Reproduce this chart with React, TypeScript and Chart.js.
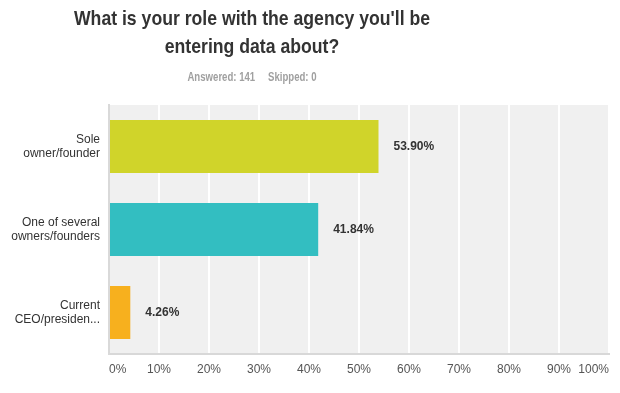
import React, { useEffect, useRef } from "react";
import { Chart, registerables } from "chart.js";

Chart.register(...registerables);

const categories: string[][] = [
  ["Sole", "owner/founder"],
  ["One of several", "owners/founders"],
  ["Current", "CEO/presiden..."],
];
const values: number[] = [53.9, 41.84, 4.26];
const valueLabels: string[] = ["53.90%", "41.84%", "4.26%"];
const barColors: string[] = ["#d0d42a", "#33bec1", "#f7b01e"];
const xTicks: number[] = [0, 10, 20, 30, 40, 50, 60, 70, 80, 90, 100];
const titleLines: string[] = ["What is your role with the agency you'll be", "entering data about?"];
const answered = "Answered: 141";
const skipped = "Skipped: 0";

const FONT = "'Liberation Sans', Arial, Helvetica, sans-serif";

export default function App() {
  const ref = useRef<HTMLCanvasElement | null>(null);

  useEffect(() => {
    document.body.style.margin = "0";
    if (!ref.current) return;

    const bgPlugin = {
      id: "plotBg",
      beforeDraw(chart: any) {
        const { ctx, chartArea } = chart;
        ctx.save();
        ctx.fillStyle = "#f0f0f0";
        ctx.fillRect(chartArea.left - 1, chartArea.top, chartArea.right - chartArea.left + 1, chartArea.bottom - chartArea.top);
        ctx.restore();
      },
    };

    const labelPlugin = {
      id: "valueLabels",
      afterDatasetsDraw(chart: any) {
        const { ctx } = chart;
        const meta = chart.getDatasetMeta(0);
        ctx.save();
        ctx.font = `bold 12px ${FONT}`;
        ctx.fillStyle = "#333333";
        ctx.textAlign = "left";
        ctx.textBaseline = "middle";
        meta.data.forEach((bar: any, i: number) => {
          ctx.fillText(valueLabels[i], bar.x + 15, bar.y);
        });
        ctx.restore();
      },
    };

    const chart = new Chart(ref.current, {
      type: "bar",
      data: {
        labels: categories,
        datasets: [
          {
            data: values,
            backgroundColor: barColors,
            borderWidth: 0,
            barPercentage: 0.64,
            categoryPercentage: 1,
          },
        ],
      },
      options: {
        indexAxis: "y",
        responsive: false,
        animation: false,
        layout: { padding: { top: 105, right: 11, left: 0, bottom: 0 } },
        plugins: {
          legend: { display: false },
          tooltip: { enabled: false },
          title: { display: false },
        },
        scales: {
          x: {
            min: 0,
            max: 100,
            afterBuildTicks(scale: any) {
              scale.ticks = xTicks.map((v) => ({ value: v }));
            },
            afterFit(scale: any) {
              scale.height = 39;
            },
            grid: { color: "#ffffff", lineWidth: 2, drawTicks: false },
            border: { display: true, color: "#d8d8d8", width: 2 },
            ticks: {
              align: "inner",
              padding: 8,
              color: "#555555",
              font: { family: FONT, size: 12 },
              callback: (v: any) => `${v}%`,
            },
          },
          y: {
            afterFit(scale: any) {
              scale.width = 109;
            },
            grid: { display: false, drawTicks: false },
            border: { display: true, color: "#d9d9d9", width: 2 },
            ticks: {
              padding: 9,
              color: "#333333",
              font: { family: FONT, size: 12, lineHeight: 1.17 },
            },
          },
        },
      },
      plugins: [bgPlugin, labelPlugin],
    } as any);

    return () => chart.destroy();
  }, []);

  return (
    <div style={{ position: "fixed", left: 0, top: 0, width: 620, height: 393, background: "#ffffff" }}>
      <canvas ref={ref} width={620} height={393} style={{ position: "absolute", left: 0, top: 0 }} />
      <div
        style={{
          position: "absolute",
          left: 0,
          top: 4,
          width: 504,
          textAlign: "center",
          fontFamily: FONT,
          fontWeight: "bold",
          fontSize: 21,
          lineHeight: "28px",
          color: "#333333",
          whiteSpace: "nowrap",
          transform: "scaleX(0.84)",
          transformOrigin: "252px 0",
        }}
      >
        <div>{titleLines[0]}</div>
        <div>{titleLines[1]}</div>
      </div>
      <div
        style={{
          position: "absolute",
          left: 0,
          top: 69,
          width: 504,
          textAlign: "center",
          fontFamily: FONT,
          fontWeight: "bold",
          fontSize: 12,
          lineHeight: "16px",
          color: "#a0a0a0",
          whiteSpace: "nowrap",
          transform: "scaleX(0.8)",
          transformOrigin: "252px 0",
        }}
      >
        <span>{answered}</span>
        <span style={{ marginLeft: 16 }}>{skipped}</span>
      </div>
    </div>
  );
}
